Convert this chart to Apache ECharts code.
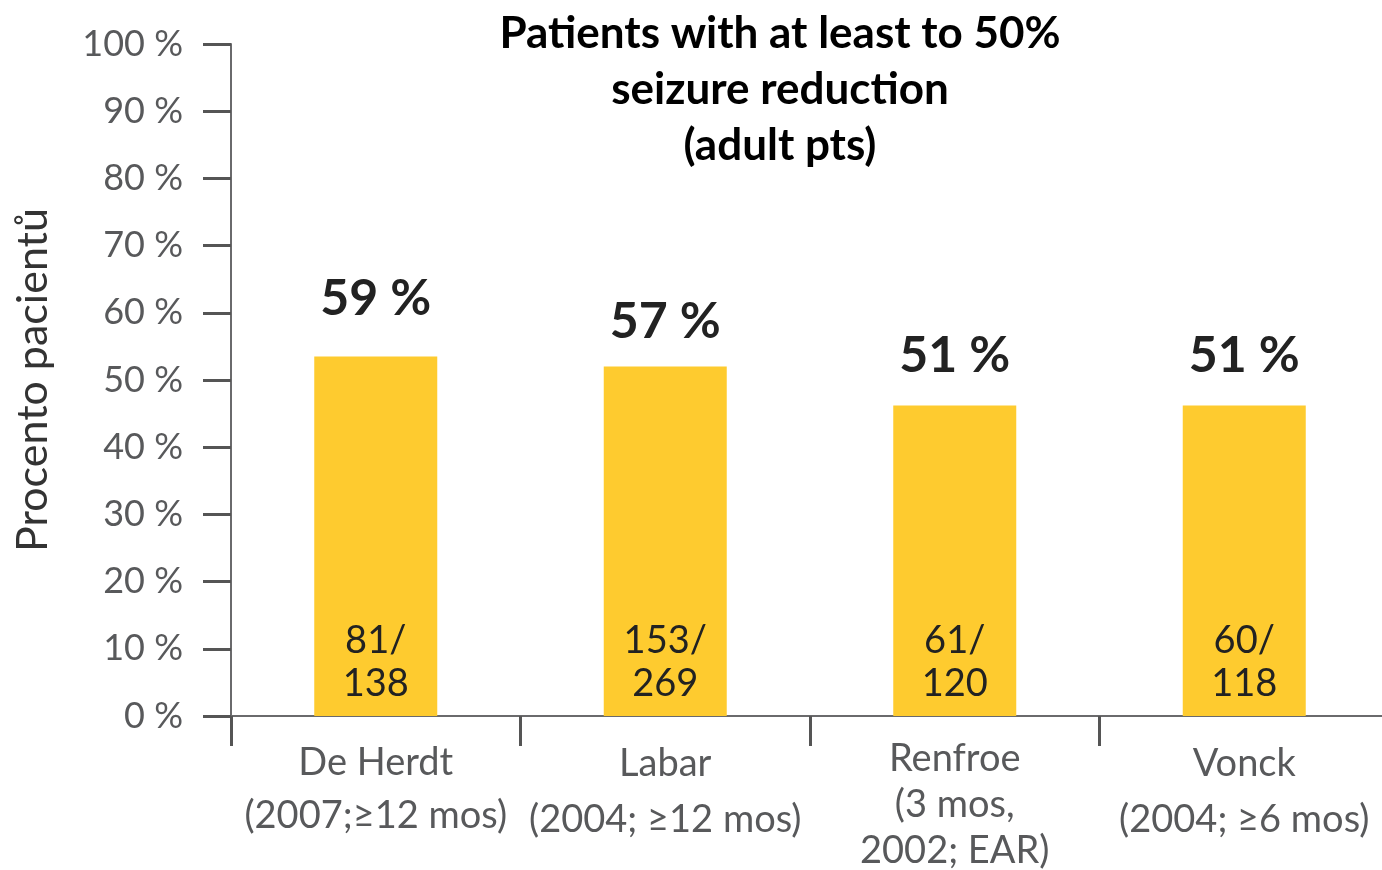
<!DOCTYPE html>
<html>
<head>
<meta charset="utf-8">
<script src="https://cdn.jsdelivr.net/npm/echarts@6/dist/echarts.min.js"></script>
<style>html,body{margin:0;padding:0;background:#fff;}#c{width:1382px;height:870px;}</style>
</head>
<body>
<div id="c"></div>
<script>
const categories = ['De Herdt\n(2007;≥12 mos)', 'Labar\n(2004; ≥12 mos)', 'Renfroe\n(3 mos,\n2002; EAR)', 'Vonck\n(2004; ≥6 mos)'];
const barValues = [53.5, 52.0, 46.2, 46.2];
const pctLabels = ['59 %', '57 %', '51 %', '51 %'];
const fractionLabels = ['81/\n138', '153/\n269', '61/\n120', '60/\n118'];
const yTicks = [0, 10, 20, 30, 40, 50, 60, 70, 80, 90, 100];
const titleText = 'Patients with at least to 50%\nseizure reduction\n(adult pts)';
const yAxisName = 'Procento pacientů';

// styling-only helpers
const catLineHeights = [53, 56, 46, 56];
const topLabelGaps = [33, 20, 25, 25];

const chart = echarts.init(document.getElementById('c'), null, {renderer: 'canvas'});
const font = 'Lato, "Open Sans", sans-serif';
chart.setOption({
  animation: false,
  backgroundColor: '#fff',
  title: {
    text: titleText,
    left: 775,
    top: 1,
    textAlign: 'center',
    textStyle: {fontFamily: 'Lato, sans-serif', fontWeight: 'bold', fontSize: 44, lineHeight: 56, color: '#000'}
  },
  grid: {left: 231, top: 44, width: 1158, height: 672, containLabel: false, outerBoundsMode: 'none'},
  xAxis: {
    type: 'category',
    data: categories.map((c, i) => ({value: c, textStyle: {lineHeight: catLineHeights[i]}})),
    axisLine: {lineStyle: {color: '#6a6a6c', width: 2}},
    axisTick: {show: true, length: 30, lineStyle: {color: '#555', width: 3}},
    axisLabel: {interval: 0, margin: 20, fontFamily: font, fontSize: 38, color: '#58595b', align: 'center'}
  },
  yAxis: {
    type: 'value',
    min: yTicks[0],
    max: yTicks[yTicks.length - 1],
    interval: yTicks[1] - yTicks[0],
    name: yAxisName,
    nameLocation: 'middle',
    nameGap: 176,
    nameRotate: 90,
    nameTextStyle: {fontFamily: font, fontSize: 43, color: '#333'},
    axisLine: {show: true, lineStyle: {color: '#6a6a6c', width: 2}},
    axisTick: {show: true, length: 28, lineStyle: {color: '#555', width: 3}},
    splitLine: {show: false},
    axisLabel: {margin: 48, fontFamily: font, fontSize: 36, color: '#58595b', formatter: '{value} %'}
  },
  series: [
    {
      type: 'bar',
      data: barValues,
      barWidth: 123,
      itemStyle: {color: '#FECB2F'},
      label: {
        show: true,
        position: 'insideBottom',
        distance: 11,
        fontFamily: font,
        fontSize: 38,
        lineHeight: 43,
        color: '#222',
        formatter: p => fractionLabels[p.dataIndex]
      }
    },
    {
      type: 'bar',
      data: barValues.map((v, i) => ({value: v, label: {distance: topLabelGaps[i]}})),
      barWidth: 123,
      barGap: '-100%',
      itemStyle: {color: 'rgba(0,0,0,0)'},
      label: {
        show: true,
        position: 'top',
        fontFamily: font,
        fontWeight: 'bold',
        fontSize: 50,
        color: '#222',
        formatter: p => pctLabels[p.dataIndex]
      },
      silent: true
    }
  ]
});
</script>
</body>
</html>
